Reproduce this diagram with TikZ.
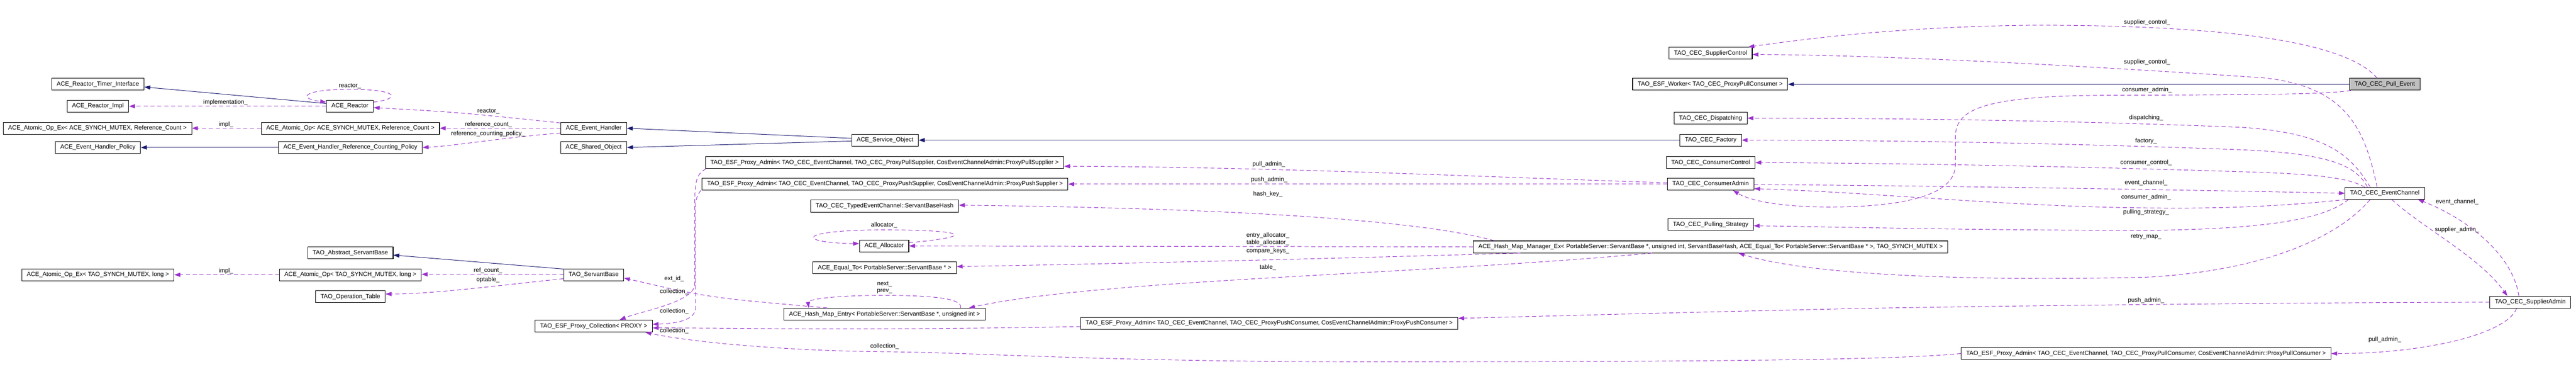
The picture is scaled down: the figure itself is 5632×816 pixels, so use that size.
\documentclass[tikz,border=0pt]{standalone}
\usepackage{fontspec}
\setmainfont{Liberation Sans}
\usetikzlibrary{arrows.meta,calc}

\definecolor{inhblue}{HTML}{191970}
\definecolor{memviolet}{HTML}{9A32CD}

\begin{document}
\begin{tikzpicture}[x=1pt,y=-1pt,
  font=\fontsize{13.2}{15}\selectfont,
  cls/.style={draw=black, line width=1.2pt, minimum height=26pt, inner xsep=11pt, inner ysep=0pt},
  focus/.style={cls, fill=gray!50},
  inh/.style={draw=inhblue, line width=1.1pt, -{Triangle[length=13pt,width=9pt]}},
  mem/.style={draw=memviolet, line width=1.1pt, dash pattern=on 9pt off 6pt, -{Triangle[length=13pt,width=9pt]}},
  lbl/.style={inner sep=1pt}]
\useasboundingbox (0,0) rectangle (5632,816);

% classes
\node[cls] (tmr) at (214,184) {ACE\_Reactor\_Timer\_Interface};
\node[cls] (rimpl) at (214,232) {ACE\_Reactor\_Impl};
\node[cls] (aopexr) at (213,280) {ACE\_Atomic\_Op\_Ex< ACE\_SYNCH\_MUTEX, Reference\_Count >};
\node[cls] (pol) at (214,322) {ACE\_Event\_Handler\_Policy};
\node[cls] (aopext) at (214,600) {ACE\_Atomic\_Op\_Ex< TAO\_SYNCH\_MUTEX, long >};
\node[cls] (reactor) at (765,232) {ACE\_Reactor};
\node[cls] (aopr) at (766,280) {ACE\_Atomic\_Op< ACE\_SYNCH\_MUTEX, Reference\_Count >};
\node[cls] (rcpol) at (766,322) {ACE\_Event\_Handler\_Reference\_Counting\_Policy};
\node[cls] (abssb) at (766,552) {TAO\_Abstract\_ServantBase};
\node[cls] (aopt) at (766,600) {ACE\_Atomic\_Op< TAO\_SYNCH\_MUTEX, long >};
\node[cls] (optbl) at (766,648) {TAO\_Operation\_Table};
\node[cls] (evh) at (1298,280) {ACE\_Event\_Handler};
\node[cls] (shobj) at (1298,322) {ACE\_Shared\_Object};
\node[cls] (tsb) at (1298,600) {TAO\_ServantBase};
\node[cls] (coll) at (1298,712) {TAO\_ESF\_Proxy\_Collection< PROXY >};
\node[cls] (svc) at (1935,306) {ACE\_Service\_Object};
\node[cls] (padmpls) at (1934,355) {TAO\_ESF\_Proxy\_Admin< TAO\_CEC\_EventChannel, TAO\_CEC\_ProxyPullSupplier, CosEventChannelAdmin::ProxyPullSupplier >};
\node[cls] (padmpss) at (1935,402) {TAO\_ESF\_Proxy\_Admin< TAO\_CEC\_EventChannel, TAO\_CEC\_ProxyPushSupplier, CosEventChannelAdmin::ProxyPushSupplier >};
\node[cls] (sbhash) at (1934,450) {TAO\_CEC\_TypedEventChannel::ServantBaseHash};
\node[cls] (alloc) at (1933,537) {ACE\_Allocator};
\node[cls] (eqto) at (1934,585) {ACE\_Equal\_To< PortableServer::ServantBase * >};
\node[cls] (hentry) at (1934,686) {ACE\_Hash\_Map\_Entry< PortableServer::ServantBase *, unsigned int >};
\node[cls] (padmpsc) at (2775,706) {TAO\_ESF\_Proxy\_Admin< TAO\_CEC\_EventChannel, TAO\_CEC\_ProxyPushConsumer, CosEventChannelAdmin::ProxyPushConsumer >};
\node[cls] (supctl) at (3740,116) {TAO\_CEC\_SupplierControl};
\node[cls] (worker) at (3739,184) {TAO\_ESF\_Worker< TAO\_CEC\_ProxyPullConsumer >};
\node[cls] (disp) at (3740,258) {TAO\_CEC\_Dispatching};
\node[cls] (fact) at (3740,306) {TAO\_CEC\_Factory};
\node[cls] (conctl) at (3740,355) {TAO\_CEC\_ConsumerControl};
\node[cls] (conadm) at (3740,402) {TAO\_CEC\_ConsumerAdmin};
\node[cls] (pull) at (3740,490) {TAO\_CEC\_Pulling\_Strategy};
\node[cls] (hmgr) at (3740,539) {ACE\_Hash\_Map\_Manager\_Ex< PortableServer::ServantBase *, unsigned int, ServantBaseHash, ACE\_Equal\_To< PortableServer::ServantBase * >, TAO\_SYNCH\_MUTEX >};
\node[cls] (padmpc) at (4692,772) {TAO\_ESF\_Proxy\_Admin< TAO\_CEC\_EventChannel, TAO\_CEC\_ProxyPullConsumer, CosEventChannelAdmin::ProxyPullConsumer >};
\node[focus] (pullev) at (5214,184) {TAO\_CEC\_Pull\_Event};
\node[cls] (evch) at (5214,422) {TAO\_CEC\_EventChannel};
\node[cls] (supadm) at (5532,660) {TAO\_CEC\_SupplierAdmin};

% inheritance
\draw[inh] ($(reactor.west)+(0,-6)$) -- ($(tmr.east)+(0,6)$);
\draw[inh] (rcpol.west) -- (pol.east);
\draw[inh] ($(svc.west)+(0,-4)$) -- (evh.east);
\draw[inh] ($(svc.west)+(0,2)$) -- (shobj.east);
\draw[inh] (fact.west) -- (svc.east);
\draw[inh] ($(tsb.north west)+(0,1)$) -- ($(abssb.east)+(0,5)$);
\draw[inh] (pullev.west) -- (worker.east);

% members
\draw[mem] (reactor.west) -- (rimpl.east);
\draw[mem] ($(reactor.east)+(0,-9)$) .. controls (880,215) and (870,195) .. (765,195)
  .. controls (660,195) and (650,215) .. ($(reactor.west)+(0,-9)$);
\draw[mem] (aopr.west) -- (aopexr.east);
\draw[mem] ($(evh.north west)+(0,2)$) .. controls (1000,245) .. ($(reactor.east)+(0,3)$);
\draw[mem] (evh.west) -- (aopr.east);
\draw[mem] ($(evh.south west)+(0,-3)$) .. controls (1100,300) and (1000,318) .. (rcpol.east);
\draw[mem] ($(tsb.west)+(0,-1)$) -- ($(aopt.east)+(0,-1)$);
\draw[mem] ($(tsb.south west)+(0,-5)$) .. controls (1100,622) and (950,642) .. ($(optbl.east)+(0,-6)$);
\draw[mem] (aopt.west) -- (aopext.east);
\draw[mem] ($(alloc.east)+(0,-7)$) .. controls (2150,515) and (2100,502) .. (1933,502)
  .. controls (1740,502) and (1740,530) .. ($(alloc.west)+(0,-5)$);
\draw[mem] ($(hentry.north)+(166,0)$) .. controls (2105,655) and (2060,645) .. (1934,645)
  .. controls (1810,645) and (1766,655) .. ($(hentry.north)+(-166,0)$);
\draw[mem] ($(hentry.north west)+(95,0)$) .. controls (1550,650) .. ($(tsb.east)+(0,7)$);
\draw[mem] ($(conadm.west)+(0,-3)$) .. controls (3200,385) and (2800,365) .. ($(padmpls.east)+(0,8)$);
\draw[mem] (conadm.west) -- (padmpss.east);
\draw[mem] ($(padmpls.south west)+(2,0)$) .. controls (1521,380) and (1519,400) .. (1519,450)
  -- (1519,620) .. controls (1519,660) and (1400,680) .. ($(coll.north east)+(-72,0)$);
\draw[mem] ($(padmpss.south west)+(-2,0)$) .. controls (1521,430) and (1521,440) .. (1521,460)
  -- (1521,670) .. controls (1521,700) and (1480,706) .. ($(coll.east)+(0,-4)$);
\draw[mem] ($(padmpsc.west)+(0,7)$) .. controls (1900,722) and (1600,716) .. ($(coll.east)+(0,4)$);
\draw[mem] (padmpc.west) .. controls (4150,785) and (3800,790) .. (3000,790)
  .. controls (2400,790) and (2150,770) .. (1934,768)
  .. controls (1700,766) and (1500,745) .. ($(coll.south east)+(-16,0)$);
\draw[mem] ($(hmgr.north west)+(46,0)$) .. controls (3100,480) and (2700,455) .. ($(sbhash.east)+(0,-2)$);
\draw[mem] (hmgr.west) -- (alloc.east);
\draw[mem] ($(hmgr.south west)+(103,0)$) .. controls (3000,562) and (2500,575) .. ($(eqto.east)+(0,-3)$);
\draw[mem] ($(hmgr.south)+(-128,0)$) .. controls (3100,600) and (2400,610) .. ($(hentry.north east)+(-36,0)$);
\draw[mem] ($(pullev.north)+(-17,0)$) .. controls (5120,80) and (4800,55) .. (4450,55)
  .. controls (4150,58) and (3950,85) .. ($(supctl.north east)+(-9,0)$);
\draw[mem] ($(evch.north)+(-17,0)$) .. controls (5170,280) and (5130,190) .. (4950,170)
  .. controls (4500,140) and (4100,120) .. ($(supctl.east)+(0,3)$);
\draw[mem] ($(evch.north)+(-32,0)$) .. controls (5140,340) and (5090,290) .. (4900,278)
  .. controls (4500,262) and (4100,258) .. (disp.east);
\draw[mem] ($(evch.north)+(-38,0)$) .. controls (5150,360) and (5090,335) .. (4900,327)
  .. controls (4500,312) and (4100,306) .. (fact.east);
\draw[mem] ($(evch.north)+(-44,0)$) .. controls (5140,392) and (5090,380) .. (4900,375)
  .. controls (4500,362) and (4100,356) .. (conctl.east);
\draw[mem] ($(conadm.east)+(0,1)$) .. controls (4200,405) and (4800,415) .. (evch.west);
\draw[mem] ($(evch.south west)+(3,0)$) .. controls (4950,455) and (4800,455) .. (4700,454)
  .. controls (4400,452) and (4100,420) .. ($(conadm.east)+(0,10)$);
\draw[mem] ($(evch.south west)+(8,0)$) .. controls (5080,480) and (4950,500) .. (4700,503)
  .. controls (4300,503) and (4000,495) .. ($(pull.east)+(0,3)$);
\draw[mem] ($(evch.south)+(-32,0)$) .. controls (5110,520) and (4950,590) .. (4700,605)
  .. controls (4300,615) and (3950,600) .. ($(hmgr.south)+(61,0)$);
\draw[mem] ($(pullev.south west)+(3,0)$) .. controls (5080,207) and (4900,207) .. (4600,208)
  .. controls (4330,210) and (4275,240) .. (4275,300) -- (4275,360)
  .. controls (4275,430) and (4150,452) .. (4000,452)
  .. controls (3880,452) and (3820,435) .. ($(conadm.south)+(49,0)$);
\draw[mem] ($(supadm.north)+(-25,0)$) .. controls (5495,560) and (5400,480) .. ($(evch.south east)+(-15,0)$);
\draw[mem] ($(evch.south)+(15,0)$) .. controls (5300,500) and (5420,560) .. ($(supadm.north)+(-50,0)$);
\draw[mem] (supadm.west) .. controls (5100,660) and (4300,668) .. (4000,675)
  .. controls (3600,684) and (3400,690) .. ($(padmpsc.east)+(0,-11)$);
\draw[mem] ($(supadm.south)+(-30,0)$) .. controls (5480,730) and (5300,772) .. (padmpc.east);

% labels
\node[lbl] (limpl) at (493,223) {implementation\_};
\node[lbl] (limp1) at (494,272) {impl\_};
\node[lbl] (limp2) at (494,592) {impl\_};
\node[lbl] (lrea1) at (765,188) {reactor\_};
\node[lbl] (lrea2) at (1068,243) {reactor\_};
\node[lbl] (lrefc) at (1068,272) {reference\_count\_};
\node[lbl] (lrefp) at (1067,292) {reference\_counting\_policy\_};
\node[lbl] (lrefct) at (1067,591) {ref\_count\_};
\node[lbl] (lopt) at (1067,611) {optable\_};
\node[lbl] (lext) at (1474,609) {ext\_id\_};
\node[lbl] (lcol1) at (1474,637) {collection\_};
\node[lbl] (lcol2) at (1474,680) {collection\_};
\node[lbl] (lcol3) at (1474,722) {collection\_};
\node[lbl] (lcol4) at (1934,756) {collection\_};
\node[lbl] (lalloc) at (1933,492) {allocator\_};
\node[lbl, align=center] (lnxt) at (1934,628) {next\_\\prev\_};
\node[lbl] (lpulla1) at (2774,359) {pull\_admin\_};
\node[lbl] (lpusha1) at (2775,393) {push\_admin\_};
\node[lbl] (lhash) at (2772,424) {hash\_key\_};
\node[lbl, align=center] (lalc) at (2772,522) {entry\_allocator\_\\table\_allocator\_};
\node[lbl] (lcmp) at (2772,548) {compare\_keys\_};
\node[lbl] (ltab) at (2772,584) {table\_};
\node[lbl] (lsc1) at (4694,49) {supplier\_control\_};
\node[lbl] (lsc2) at (4694,136) {supplier\_control\_};
\node[lbl] (lca1) at (4694,196) {consumer\_admin\_};
\node[lbl] (ldisp) at (4692,257) {dispatching\_};
\node[lbl] (lfact) at (4692,308) {factory\_};
\node[lbl] (lcc) at (4692,355) {consumer\_control\_};
\node[lbl] (lec1) at (4692,399) {event\_channel\_};
\node[lbl] (lca2) at (4692,431) {consumer\_admin\_};
\node[lbl] (lps) at (4692,464) {pulling\_strategy\_};
\node[lbl] (lrm) at (4692,517) {retry\_map\_};
\node[lbl] (lpusha2) at (4692,656) {push\_admin\_};
\node[lbl] (lec2) at (5372,441) {event\_channel\_};
\node[lbl] (lsa) at (5372,502) {supplier\_admin\_};
\node[lbl] (lpulla2) at (5214,742) {pull\_admin\_};
\end{tikzpicture}
\end{document}
